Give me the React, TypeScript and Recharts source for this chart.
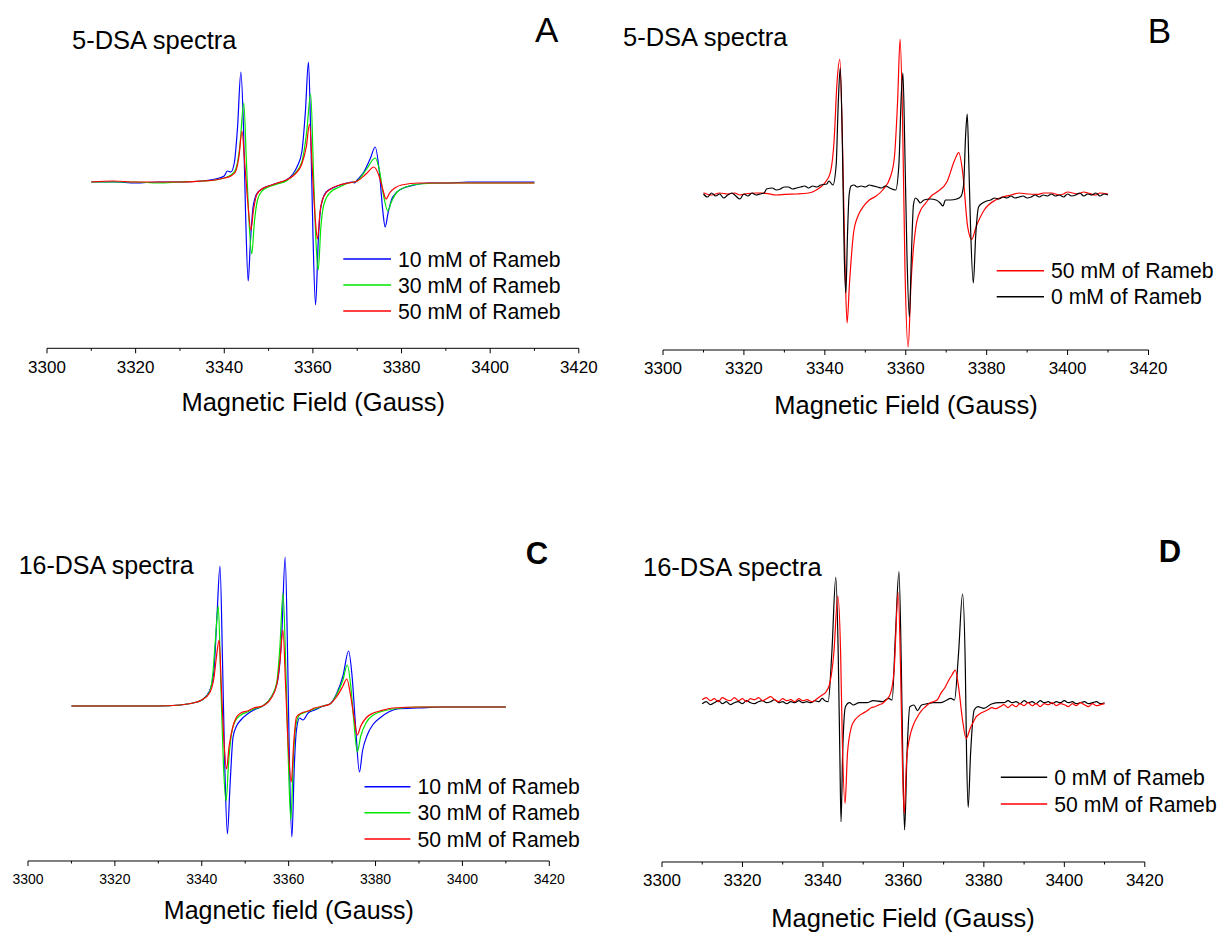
import React from 'react';
import { LineChart, Line, XAxis, YAxis } from 'recharts';

// ---------- axis ticks ----------
const FIELD_TICKS = [3300, 3310, 3320, 3330, 3340, 3350, 3360, 3370, 3380, 3390, 3400, 3410, 3420];
const MAJOR_TICKS = [3300, 3320, 3340, 3360, 3380, 3400, 3420];

// ---------- Panel A : 5-DSA, Rameb series (field G, signal a.u.) ----------
const A_10mM: [number, number][] = [
  [3310, 0], [3315, 0], [3320, -1], [3325, 0], [3330, 0], [3335, 1], [3338, 3], [3340, 6], [3340.7, 11], [3341.5, 10],
  [3342.3, 20], [3343.0, 55], [3343.75, 110], [3344.3, 60], [3344.8, -30], [3345.4, -99], [3345.9, -60], [3346.5, -25],
  [3347.3, -12], [3348.5, -7], [3350, -4], [3352, -1], [3354, 2], [3355.5, 8], [3356.5, 16], [3357.5, 30], [3358.3, 70],
  [3359.0, 120], [3359.5, 50], [3360.0, -50], [3360.6, -123], [3361.2, -60], [3361.8, -25], [3363, -10], [3365, -5],
  [3367, -2], [3369, 0], [3369.4, -1], [3370, 2], [3371.5, 10], [3373, 24], [3374.06, 35], [3375, 10], [3375.8, -30],
  [3376.3, -45], [3377, -30], [3378, -15], [3380, -7], [3383, -3], [3386, -1], [3390, -1], [3395, 0], [3400, 0],
  [3405, 0], [3410, 0],
];
const A_30mM: [number, number][] = [
  [3310, 0], [3315, 0], [3320, 0], [3325, -1], [3330, 0], [3335, 1], [3338, 2], [3340, 4], [3341.5, 7], [3342.5, 12],
  [3343.5, 35], [3344.4, 79], [3345, 20], [3345.6, -40], [3346.2, -72], [3346.8, -40], [3347.5, -18], [3348.5, -9],
  [3350, -5], [3352, -2], [3354, 1], [3356, 9], [3357.5, 20], [3358.6, 50], [3359.5, 88], [3360.2, 0], [3360.7, -60],
  [3361.2, -88], [3361.8, -45], [3362.5, -22], [3364, -10], [3366, -5], [3368, -1], [3369.3, 0], [3370, 1], [3372, 12],
  [3374.06, 24], [3375, 12], [3376, -15], [3376.9, -29], [3377.7, -20], [3379, -10], [3381, -5], [3384, -2],
  [3390, -1], [3400, -1], [3410, -1],
];
const A_50mM: [number, number][] = [
  [3310, 0], [3315, 1], [3320, 0], [3325, 0], [3330, 0], [3335, 1], [3338, 2], [3340, 4], [3341.5, 6], [3342.5, 10],
  [3343.3, 25], [3344.0, 51], [3344.6, 20], [3345.3, -20], [3346.0, -48], [3346.6, -28], [3347.3, -13], [3348.5, -7],
  [3350, -4], [3352, -1], [3354, 2], [3356, 8], [3357.5, 18], [3358.5, 35], [3359.25, 58], [3359.9, 10], [3360.5, -35],
  [3361.05, -57], [3361.6, -30], [3362.5, -14], [3364, -7], [3366, -3], [3368, -1], [3369.3, 0], [3370, 1], [3372, 8],
  [3373.76, 15], [3375, 5], [3375.8, -8], [3376.5, -17], [3377.3, -11], [3378.5, -6], [3380, -3], [3384, -1],
  [3390, -1], [3400, -1], [3410, -1],
];

// ---------- Panel B : 5-DSA, 50 mM vs 0 mM ----------
const B_50mM: [number, number][] = [
  [3310, 2.3], [3312, 0], [3314, 2], [3316, 1], [3317.7, 2], [3319, 0], [3321, 1.5], [3323, 2], [3325.4, 1.7],
  [3328, 0], [3330.2, 0.7], [3333, 1], [3336, 2], [3337.9, 5],
  [3339.9, 11.7], [3341.3, 21.7], [3342.3, 55], [3343, 112], [3343.7, 135.7], [3344.4, 45], [3345, -71.7],
  [3345.5, -128], [3346.1, -88], [3347.1, -38], [3348.3, -20], [3349.5, -11.7], [3351, -5], [3352.4, -1.7],
  [3354.3, 5], [3356.2, 18], [3357.2, 38], [3358, 95], [3358.6, 155.7], [3359.2, 78], [3359.8, -72], [3360.6, -152],
  [3361.3, -88], [3362.5, -32], [3363.7, -15], [3364.9, -8.3], [3366.3, -1], [3367.8, 3.3], [3370.2, 13.3],
  [3372.1, 35], [3373.1, 42.3], [3374.1, 21.7], [3375.3, -31.7], [3376.3, -44.3], [3377.4, -31.7], [3379.4, -15],
  [3382.2, -5], [3384, -2], [3386.1, 0], [3388, 2], [3390, 1], [3392.8, 0.7], [3394, 2], [3396, 2], [3398, 0],
  [3399, 1], [3400, 3], [3402.5, 1], [3404, 3], [3405, 2], [3407, 0], [3408, 2], [3410, 1],
];
const B_0mM: [number, number][] = [
  [3310, 1], [3311, -2], [3312, 2], [3313, -1], [3314, 1], [3315, -3], [3316, 0], [3317, 2], [3318, -1], [3319, -4],
  [3320, 1], [3321, -1], [3322, 2], [3323, 0], [3324, 1], [3325, 2], [3325.6, 6], [3327, 7], [3328, 5], [3329, 6],
  [3330, 8], [3331, 8], [3332, 6], [3333, 7], [3334, 8], [3335, 9], [3336, 7], [3337, 9], [3338, 8], [3339, 10],
  [3340.5, 11], [3341, 14], [3342, 10], [3342.8, 30], [3343.3, 90], [3343.8, 127], [3344.3, 60], [3344.8, -60],
  [3345.2, -98], [3345.6, -40], [3346.0, 0], [3346.5, 9], [3347.2, 10], [3348, 8], [3349, 9], [3350, 8], [3351, 10],
  [3352, 9], [3353, 8], [3354, 7], [3355, 9], [3356, 7], [3357.5, 5], [3358.3, 30], [3358.9, 100], [3359.3, 122],
  [3359.8, 40], [3360.3, -60], [3360.9, -122], [3361.4, -60], [3361.9, -10], [3362.4, -3], [3363, -5], [3363.6, -8],
  [3364.5, -5], [3366, -4], [3367.5, -5], [3368.5, -8], [3369.2, -11], [3369.8, -5], [3371, -5], [3372.6, -4],
  [3373.6, -1.7], [3374.3, 10], [3374.8, 60], [3375.2, 81], [3375.6, 30], [3376.0, -30], [3376.7, -88],
  [3377.3, -40], [3378, -12], [3379, -8], [3380, -6], [3381, -5], [3382, -3], [3383, -4], [3384, -2], [3385, -3],
  [3386, -1], [3387, -3], [3388, -2], [3389, -1], [3390, -3], [3391, -2], [3392, 0], [3393, -2], [3394, 0],
  [3395, -1], [3396, 1], [3397, -1], [3398, 0], [3399, -2], [3400, 1], [3401, -1], [3402, 0], [3403, 2], [3404, -1],
  [3405, 1], [3406, 0], [3407, 2], [3408, -1], [3409, 1], [3410, 0],
];

// ---------- Panel C : 16-DSA, Rameb series ----------
const C_10mM: [number, number][] = [
  [3310, 0], [3315, 0], [3320, 0], [3325, 0], [3330, 0], [3335, 1], [3338, 3], [3340, 6], [3341.8, 15], [3342.8, 35],
  [3343.5, 90], [3344.2, 140], [3344.8, 40], [3345.3, -60], [3345.9, -128], [3346.5, -80], [3347.2, -31], [3348, -20],
  [3349, -14], [3350.5, -8], [3352, -4], [3354, 0], [3356, 9], [3357.5, 26], [3358.4, 70], [3359.2, 149],
  [3359.8, 40], [3360.2, -60], [3360.75, -131], [3361.3, -60], [3361.8, -24], [3362.5, -12], [3363.3, -14],
  [3364.5, -7], [3366, -4], [3368, 0], [3369.5, 2], [3371, 12], [3372.5, 30], [3373.8, 55], [3374.6, 30],
  [3375.4, -20], [3376.3, -66], [3377.0, -45], [3378, -30], [3379.5, -18], [3381, -12], [3383, -6], [3385, -3],
  [3390, -2], [3395, -1], [3400, -1], [3405, -1], [3410, -1],
];
const C_30mM: [number, number][] = [
  [3310, 0], [3320, 0], [3330, 0], [3335, 1], [3338, 3], [3340, 6], [3341.8, 14], [3342.6, 35], [3343.2, 70],
  [3343.8, 100], [3344.4, 20], [3345.0, -60], [3345.6, -95], [3346.2, -55], [3347, -24], [3348, -13], [3349, -9],
  [3350.5, -6], [3352, -3], [3354, 0], [3356, 9], [3357.3, 25], [3358, 60], [3358.7, 113], [3359.4, 30],
  [3359.9, -50], [3360.5, -114], [3361.1, -50], [3361.7, -18], [3362.5, -9], [3364, -6], [3366, -3], [3368, 0],
  [3369.5, 2], [3371, 11], [3372.5, 26], [3373.5, 41], [3374.3, 20], [3375.0, -15], [3375.8, -46], [3376.6, -30],
  [3377.8, -17], [3379.5, -9], [3381, -6], [3384, -3], [3390, -1], [3400, -1], [3410, -1],
];
const C_50mM: [number, number][] = [
  [3310, 0], [3320, 0], [3330, 0], [3335, 1], [3338, 3], [3340, 6], [3341.8, 13], [3342.8, 28], [3343.4, 50],
  [3344.0, 66], [3344.5, 20], [3345.1, -35], [3345.7, -63], [3346.3, -40], [3347.2, -20], [3348, -11], [3349, -7],
  [3350.5, -5], [3352, -2], [3354, 0], [3356, 8], [3357.3, 22], [3358, 45], [3358.7, 76], [3359.3, 20],
  [3359.9, -40], [3360.6, -76], [3361.2, -35], [3361.8, -11], [3363, -7], [3364.5, -5], [3366, -2], [3368, 0],
  [3369.5, 2], [3371, 9], [3372.5, 20], [3373.4, 27], [3374.2, 12], [3375.0, -10], [3375.8, -29], [3376.6, -20],
  [3377.8, -12], [3379.5, -7], [3381, -5], [3384, -2], [3390, -1], [3400, -1], [3410, -1],
];

// ---------- Panel D : 16-DSA, 0 mM vs 50 mM ----------
const D_0mM: [number, number][] = [
  [3310, -1], [3311, 1], [3312, -2], [3313, 0], [3314, 2], [3315, -1], [3316, 1], [3317, -2], [3318, 0], [3319, 1],
  [3320, -1], [3321, 2], [3322, 0], [3323, -1], [3324, 1], [3325, 2], [3326, 0], [3327, 1], [3328, 3], [3329, 0],
  [3330, 1], [3331, -1], [3332, 1], [3333, 0], [3334, 2], [3335, 0], [3336, 1], [3337, 0], [3338, 2], [3339, 1],
  [3339.8, 4.3], [3340.5, 2], [3341.3, 1], [3342.2, 49], [3343.2, 125.3], [3343.8, 49], [3344.2, -50.7],
  [3344.5, -119], [3344.9, -50.7], [3345.6, -4], [3346.6, 0], [3347.6, -2.3], [3349, 0], [3350.9, 0], [3352.5, 2],
  [3354.8, 1], [3356.3, 4.3], [3357.2, 2.7], [3358, 66], [3358.9, 131], [3359.5, 32.7], [3359.9, -67],
  [3360.3, -127.3], [3360.9, -50.7], [3361.6, -4], [3362.6, -2.3], [3363.5, -8], [3364.5, -2.3], [3366, -1],
  [3367.4, 0], [3369.3, 0], [3370.5, 2], [3371.8, 4.3], [3372.7, 2.7], [3373.7, 49], [3374.7, 108.7],
  [3375.4, 32.7], [3375.7, -50.7], [3376.1, -104.7], [3376.7, -50.7], [3377.6, -7.3], [3378.5, -4], [3380, -5.7],
  [3381.9, -1.3], [3383.9, 0], [3385, 0], [3386, 2], [3387, 0], [3388, 1], [3389, -1], [3390, 2], [3391, 0],
  [3392, 1], [3393, -1], [3394, 2], [3395, 0], [3396, 1], [3397, -1], [3398, 1], [3399, 0], [3400, 2], [3401, 0],
  [3402, 1], [3403, -1], [3404, 0], [3405, 1], [3406, -1], [3407, 0], [3408, 1], [3409, -1], [3410, 0],
];
const D_50mM: [number, number][] = [
  [3310, 3], [3311, 5], [3312, 2], [3313, 4], [3314, 1], [3315, 5], [3316, 3], [3317, 2], [3318, 5], [3319, 2],
  [3320, 4], [3321, 1], [3322, 4], [3323, 3], [3324, 5], [3325, 2], [3326, 4], [3327, 6], [3328, 3], [3329, 1],
  [3330, 4], [3331, 2], [3332, 3], [3333, 1], [3334, 4], [3335, 2], [3336, 3], [3337.4, 1], [3338.5, 4],
  [3339.8, 7.7], [3340.8, 11], [3341.7, 19.3], [3342.7, 49], [3343.7, 106.7], [3344.4, 49], [3344.8, -34],
  [3345.5, -100.7], [3346.1, -50.7], [3347.1, -24], [3348, -17], [3349, -13], [3349.9, -10.7], [3351, -8],
  [3352, -5], [3352.9, -4], [3354, -2], [3354.8, -0.7], [3355.8, 3], [3356.8, 9.3], [3357.7, 32.7], [3358.7, 110],
  [3359.3, 32.7], [3359.7, -50.7], [3360.2, -110.7], [3360.8, -57.3], [3361.6, -34], [3362.5, -22], [3363.5, -14],
  [3364.5, -8], [3365.5, -4], [3366.4, -0.7], [3367.4, 1], [3368.4, 2.7], [3369.3, 9.3], [3370.3, 15],
  [3371.3, 22.7], [3372.1, 28], [3372.9, 32.7], [3373.7, 16], [3374.7, -17.3], [3375.6, -35.7], [3376.6, -25.7],
  [3377.3, -20], [3378.1, -14], [3379, -11], [3380, -9], [3381, -7], [3382, -5], [3383, -6], [3384, -4],
  [3385, -2], [3386, -5], [3387, -2], [3388, -4], [3389, -1], [3390, -3], [3391, 0], [3392, -3], [3393, -1],
  [3394, -4], [3395, -1], [3396, -2], [3397, 0], [3398, -3], [3399, -1], [3400, -2], [3401, -4], [3402, -1],
  [3403, -3], [3404, 0], [3405, -2], [3406, -4], [3407, -1], [3408, -3], [3409, -2], [3410, -1],
];

// ---------- labels ----------
const LEGEND_10 = '10 mM of Rameb';
const LEGEND_30 = '30 mM of Rameb';
const LEGEND_50 = '50 mM of Rameb';
const LEGEND_0 = '0 mM of Rameb';

const FONT = '"Liberation Sans", Arial, Helvetica, sans-serif';
const BLUE = '#0000FF';
const GREEN = '#00E600';
const RED = '#FF0000';
const BLACK = '#000000';

type Series = { name: string; color: string; data: [number, number][] };

const toPts = (arr: [number, number][]) => arr.map(([x, y]) => ({ x, y }));

type PanelProps = {
  x0: number; x1: number; axisY: number; topY: number; baseY: number;
  series: Series[]; tickFont: number; labelOffset: number;
};

function Panel({ x0, x1, axisY, topY, baseY, series, tickFont, labelOffset }: PanelProps) {
  const mL = 40, mR = 40, mT = 10, axisH = 40;
  const plotW = x1 - x0;
  const plotH = axisY - topY;
  const width = plotW + mL + mR;
  const height = plotH + mT + axisH;
  const yMax = baseY - topY;
  const yMin = baseY - axisY;
  const renderTick = (p: any) => {
    const v = p.payload.value;
    const major = MAJOR_TICKS.includes(v);
    return (
      <g>
        <line x1={p.x} x2={p.x} y1={p.y} y2={p.y + (major ? 5 : 2.5)} stroke="#000" strokeWidth={1} />
        {major && (
          <text x={p.x} y={p.y + labelOffset} dy="0.36em" textAnchor="middle" fontSize={tickFont} fontFamily={FONT} fill="#000">
            {v}
          </text>
        )}
      </g>
    );
  };
  return (
    <div style={{ position: 'absolute', left: x0 - mL, top: topY - mT }}>
      <LineChart width={width} height={height} margin={{ top: mT, right: mR, bottom: 0, left: mL }}>
        <XAxis
          type="number"
          dataKey="x"
          domain={[3300, 3420]}
          ticks={FIELD_TICKS}
          interval={0}
          tickSize={0}
          tickMargin={0}
          tickLine={false}
          tick={renderTick}
          height={axisH}
          axisLine={{ stroke: '#000', strokeWidth: 1 }}
          allowDataOverflow
        />
        <YAxis hide type="number" domain={[yMin, yMax]} allowDataOverflow width={0} />
        {series.map((s) => (
          <Line
            key={s.name}
            data={toPts(s.data)}
            dataKey="y"
            name={s.name}
            type="monotone"
            stroke={s.color}
            strokeWidth={1.2}
            dot={false}
            activeDot={false}
            isAnimationActive={false}
          />
        ))}
      </LineChart>
    </div>
  );
}

function LegendRow({ x1, x2, y, color, label, size }: { x1: number; x2: number; y: number; color: string; label: string; size: number }) {
  return (
    <g>
      <line x1={x1} x2={x2} y1={y} y2={y} stroke={color} strokeWidth={1.6} />
      <text x={x2 + 7} y={y} dy="0.36em" fontSize={size} fontFamily={FONT} fill="#000">{label}</text>
    </g>
  );
}

export default function App() {
  const T = (props: any) => <text fontFamily={FONT} fill="#000" dy="0.36em" {...props} />;
  const LS = 21.2;
  return (
    <div style={{ position: 'absolute', left: 0, top: 0, width: 1221, height: 933, background: '#fff', overflow: 'hidden' }}>
      <Panel x0={47.1} x1={578.9} axisY={348.3} topY={20} baseY={182} tickFont={17} labelOffset={18.5}
        series={[
          { name: LEGEND_10, color: BLUE, data: A_10mM },
          { name: LEGEND_30, color: GREEN, data: A_30mM },
          { name: LEGEND_50, color: RED, data: A_50mM },
        ]} />
      <Panel x0={663} x1={1148.5} axisY={350} topY={20} baseY={195} tickFont={17} labelOffset={17.5}
        series={[
          { name: LEGEND_50, color: RED, data: B_50mM },
          { name: LEGEND_0, color: BLACK, data: B_0mM },
        ]} />
      <Panel x0={28.4} x1={549.7} axisY={861} topY={540} baseY={706} tickFont={14} labelOffset={17.8}
        series={[
          { name: LEGEND_10, color: BLUE, data: C_10mM },
          { name: LEGEND_30, color: GREEN, data: C_30mM },
          { name: LEGEND_50, color: RED, data: C_50mM },
        ]} />
      <Panel x0={662.2} x1={1145} axisY={862} topY={540} baseY={702.7} tickFont={17} labelOffset={17.5}
        series={[
          { name: LEGEND_0, color: BLACK, data: D_0mM },
          { name: LEGEND_50, color: RED, data: D_50mM },
        ]} />
      <svg width={1221} height={933} style={{ position: 'absolute', left: 0, top: 0, pointerEvents: 'none' }}>
        {/* panel titles */}
        <T x={72} y={40} fontSize={25.5}>5-DSA spectra</T>
        <T x={623} y={37} fontSize={25.5}>5-DSA spectra</T>
        <T x={18.7} y={565} fontSize={25}>16-DSA spectra</T>
        <T x={643} y={566.7} fontSize={25.5}>16-DSA spectra</T>
        {/* panel letters */}
        <T x={546.6} y={29.3} fontSize={35} textAnchor="middle">A</T>
        <T x={1159.4} y={30} fontSize={35} textAnchor="middle">B</T>
        <T x={536.9} y={553.3} fontSize={31} fontWeight="bold" textAnchor="middle">C</T>
        <T x={1170} y={550.7} fontSize={31} fontWeight="bold" textAnchor="middle">D</T>
        {/* axis titles */}
        <T x={313.2} y={402} fontSize={25.5} textAnchor="middle">Magnetic Field (Gauss)</T>
        <T x={906} y={405} fontSize={25.5} textAnchor="middle">Magnetic Field (Gauss)</T>
        <T x={288.9} y={910} fontSize={25} textAnchor="middle">Magnetic field (Gauss)</T>
        <T x={903} y={918} fontSize={25.5} textAnchor="middle">Magnetic Field (Gauss)</T>
        {/* legends */}
        <LegendRow x1={343.3} x2={391} y={259} color={BLUE} label={LEGEND_10} size={LS} />
        <LegendRow x1={343.3} x2={391} y={285} color={GREEN} label={LEGEND_30} size={LS} />
        <LegendRow x1={343.3} x2={391} y={311} color={RED} label={LEGEND_50} size={LS} />
        <LegendRow x1={996.7} x2={1044} y={270.7} color={RED} label={LEGEND_50} size={LS} />
        <LegendRow x1={996.7} x2={1044} y={296.7} color={BLACK} label={LEGEND_0} size={LS} />
        <LegendRow x1={364.5} x2={410.4} y={786.7} color={BLUE} label={LEGEND_10} size={LS} />
        <LegendRow x1={364.5} x2={410.4} y={812.7} color={GREEN} label={LEGEND_30} size={LS} />
        <LegendRow x1={364.5} x2={410.4} y={839} color={RED} label={LEGEND_50} size={LS} />
        <LegendRow x1={1000.8} x2={1047.2} y={777.3} color={BLACK} label={LEGEND_0} size={LS} />
        <LegendRow x1={1000.8} x2={1047.2} y={804} color={RED} label={LEGEND_50} size={LS} />
      </svg>
    </div>
  );
}
